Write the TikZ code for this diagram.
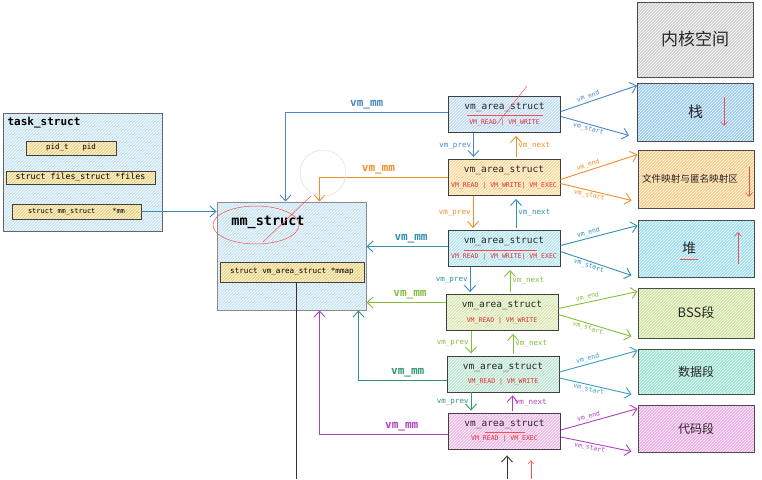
\documentclass[tikz,border=0pt]{standalone}
\usepackage{fontspec}
\setmonofont{DejaVu Sans Mono}
\newfontfamily\cjk{Noto Sans CJK SC}
\usetikzlibrary{arrows.meta,patterns,calc,positioning}

\definecolor{cblue}{HTML}{4A86C8}
\definecolor{corange}{HTML}{F28C28}
\definecolor{cteal}{HTML}{2F8FB5}
\definecolor{clime}{HTML}{84BD3A}
\definecolor{cgreen}{HTML}{2E9670}
\definecolor{cpurple}{HTML}{B23FC2}
\definecolor{ccyan}{HTML}{3A9DC2}
\definecolor{fblue}{HTML}{C0DEF6}
\definecolor{forange}{HTML}{FDD99C}
\definecolor{fteal}{HTML}{B5E6F5}
\definecolor{flime}{HTML}{D8EAB2}
\definecolor{fgreen}{HTML}{BCE8D0}
\definecolor{fpurple}{HTML}{F2B8EC}
\definecolor{ftask}{HTML}{C9E4F4}
\definecolor{ffield}{HTML}{F2D482}
\definecolor{sgray}{HTML}{D0D0D0}
\definecolor{sblue}{HTML}{9ACAF2}
\definecolor{sorange}{HTML}{FCCD86}
\definecolor{scyan}{HTML}{9CE0F3}
\definecolor{slime}{HTML}{CEE79C}
\definecolor{smint}{HTML}{98E7CE}
\definecolor{spink}{HTML}{F2AAEA}
\definecolor{flagred}{HTML}{E03131}

% body of one vm_area_struct box
\newcommand{\vmabody}[1]{{\fontsize{9.5}{11}\selectfont vm\_area\_struct}\\[2.5pt]{\color{flagred}\fontsize{6.5}{7}\selectfont #1}}

\begin{document}
\begin{tikzpicture}[x=1pt,y=-1pt]
	\tikzset{hatch/.style={preaction={fill=#1}, preaction={pattern=north east lines, pattern color=white}}}
	\tikzstyle{vma}=[draw=black!75, line width=0.9pt, minimum width=112pt, minimum height=36pt,
	inner sep=1pt, align=center, text=black!85, font=\ttfamily]
	\tikzstyle{seg}=[draw=black!70, line width=0.9pt, minimum width=116pt, text=black!85]
	\tikzstyle{field}=[draw=black!75, line width=0.7pt, hatch=ffield, inner sep=1pt,
	font=\ttfamily\fontsize{7.5}{8}\selectfont]
	\tikzstyle{ptr}=[-{Straight Barb[length=6pt,width=11pt]}, line width=0.9pt]
	\tikzstyle{mmlbl}=[font=\ttfamily\bfseries\fontsize{11}{12}\selectfont, above, inner sep=2.5pt]
	\tikzstyle{lnk}=[font=\ttfamily\fontsize{7.5}{8}\selectfont, inner sep=2pt]
	\tikzstyle{rng}=[font=\ttfamily\fontsize{6.5}{7}\selectfont, inner sep=1.5pt, sloped]
	\tikzstyle{redink}=[draw=red!70, line width=0.5pt]

	\useasboundingbox (0,0) rectangle (762,479);

	% task_struct
	\node[draw=black!60, line width=0.9pt, hatch=ftask, minimum width=159pt, minimum height=118pt] (tsk) at (82.5,172) {};
	\node[anchor=west, font=\ttfamily\bfseries\fontsize{11}{12}\selectfont] (tsktitle) at (4,123) {task\_struct};
	\node[field, minimum width=90pt, minimum height=14pt] (pid) at (71,148) {pid\_t\ \ \ pid};
	\node[field, minimum width=149pt, minimum height=13pt, font=\ttfamily\fontsize{8.3}{9}\selectfont] (files) at (80.5,177.5) {struct files\_struct *files};
	\node[field, minimum width=129pt, minimum height=15pt, font=\ttfamily\fontsize{7}{8}\selectfont] (mmf) at (76.5,211.5) {struct mm\_struct\ \ \ \ *mm};

	% mm_struct
	\node[draw=black!45, line width=0.9pt, hatch=ftask, minimum width=149pt, minimum height=108pt] (mm) at (291.5,256) {};
	\node[font=\ttfamily\bfseries\fontsize{13.5}{15}\selectfont] (mmtitle) at (268,222) {mm\_struct};
	\node[field, minimum width=144pt, minimum height=20pt, font=\ttfamily\fontsize{7.6}{8}\selectfont] (mmap) at (292,272) {struct vm\_area\_struct *mmap};
	\coordinate (mmapleg) at (296,479);
	\draw[line width=0.9pt, black!80] (mmapleg |- mmap.south) -- (mmapleg);
	\draw[ptr, cteal] (mmf.east) -- (mmf.east -| mm.west);

	% vm_area_struct list
	\node[vma, hatch=fblue] (vma1) at (504.5,114.5) {\vmabody{VM\_READ | VM\_WRITE}};
	\node[vma, hatch=forange] (vma2) at (504,177.5) {\vmabody{VM\_READ | VM\_WRITE| VM\_EXEC}};
	\node[vma, hatch=fteal] (vma3) at (504,248.5) {\vmabody{VM\_READ | VM\_WRITE| VM\_EXEC}};
	\node[vma, hatch=flime] (vma4) at (502,312.5) {\vmabody{VM\_READ | VM\_WRITE}};
	\node[vma, hatch=fgreen] (vma5) at (503,374) {\vmabody{VM\_READ | VM\_WRITE}};
	\node[vma, hatch=fpurple] (vma6) at (504.5,431) {\vmabody{VM\_READ | VM\_EXEC}};

	% vm_mm back to mm_struct
	\draw[ptr, cblue] ([yshift=2pt]vma1.west) -| node[mmlbl, pos=0.25, text=cblue] {vm\_mm} ([xshift=69pt]mm.north west);
	\draw[ptr, corange] (vma2.west) -| node[mmlbl, pos=0.27, text=corange] {vm\_mm} ([xshift=103pt]mm.north west);
	\draw[ptr, cteal] ([yshift=2pt]vma3.west) -- node[mmlbl, pos=0.45, text=cteal] {vm\_mm} ([yshift=2pt]vma3.west -| mm.east);
	\draw[ptr, clime] ([yshift=10pt]vma4.west) -- node[mmlbl, pos=0.45, text=clime] {vm\_mm} ([yshift=10pt]vma4.west -| mm.east);
	\draw[ptr, cgreen] ([yshift=-6pt]vma5.west) -| node[mmlbl, pos=0.22, text=cgreen] {vm\_mm} ([xshift=-8pt]mm.south east);
	\draw[ptr, cpurple] ([yshift=-3pt]vma6.west) -| node[mmlbl, pos=0.18, text=cpurple] {vm\_mm} ([xshift=103pt]mm.south west);

	% vm_prev / vm_next
	\draw[ptr, cblue, shorten >=2pt] ([xshift=-31pt]vma1.south) -- node[lnk, left, text=cblue] {vm\_prev} ([xshift=-31pt]vma1.south |- vma2.north);
	\draw[ptr, corange, shorten >=3pt, shorten <=2pt] ([xshift=12pt]vma2.north) -- node[lnk, right, text=corange] {vm\_next} ([xshift=12pt]vma2.north |- vma1.south);
	\draw[ptr, corange, shorten >=2pt] ([xshift=-31pt]vma2.south) -- node[lnk, left, text=corange] {vm\_prev} ([xshift=-31pt]vma2.south |- vma3.north);
	\draw[ptr, cteal, shorten >=3pt, shorten <=2pt] ([xshift=12pt]vma3.north) -- node[lnk, right, text=cteal] {vm\_next} ([xshift=12pt]vma3.north |- vma2.south);
	\draw[ptr, cteal, shorten >=2pt] ([xshift=-34pt]vma3.south) -- node[lnk, left, text=cteal] {vm\_prev} ([xshift=-34pt]vma3.south |- vma4.north);
	\draw[ptr, clime, shorten >=3pt, shorten <=2pt] ([xshift=8pt]vma4.north) -- node[lnk, right, text=clime] {vm\_next} ([xshift=8pt]vma4.north |- vma3.south);
	\draw[ptr, clime, shorten >=2pt] ([xshift=-31pt]vma4.south) -- node[lnk, left, text=clime] {vm\_prev} ([xshift=-31pt]vma4.south |- vma5.north);
	\draw[ptr, clime, shorten >=3pt, shorten <=2pt] ([xshift=10pt]vma5.north) -- node[lnk, right, text=clime] {vm\_next} ([xshift=10pt]vma5.north |- vma4.south);
	\draw[ptr, cgreen, shorten >=2pt] ([xshift=-32pt]vma5.south) -- node[lnk, left, text=cgreen] {vm\_prev} ([xshift=-32pt]vma5.south |- vma6.north);
	\draw[ptr, cpurple, shorten >=3pt, shorten <=2pt] ([xshift=8pt]vma6.north) -- node[lnk, right, text=cpurple] {vm\_next} ([xshift=8pt]vma6.north |- vma5.south);

	% address space
	\node[seg, hatch=sgray, minimum height=75pt, font=\cjk\fontsize{17}{18}\selectfont] (kernel) at (695,39.5) {内核空间};
	\node[seg, hatch=sblue, minimum height=58pt, font=\cjk\fontsize{15}{16}\selectfont] (stack) at (695.5,112) {栈};
	\node[seg, hatch=sorange, minimum height=58pt, font=\cjk\fontsize{9.6}{10}\selectfont] (mapzone) at (696,179) {文件映射与匿名映射区\hspace*{12pt}};
	\node[seg, hatch=scyan, minimum height=57pt, font=\cjk\fontsize{14}{15}\selectfont] (heap) at (696,248.5) {堆\hspace*{14pt}};
	\node[seg, hatch=slime, minimum height=50pt, font=\cjk\fontsize{13}{14}\selectfont] (bss) at (696,313) {BSS段};
	\node[seg, hatch=smint, minimum height=45pt, font=\cjk\fontsize{12}{13}\selectfont] (data) at (696,371.5) {数据段};
	\node[seg, hatch=spink, minimum height=47pt, font=\cjk\fontsize{12}{13}\selectfont] (text) at (696,428.5) {代码段};

	% vm_end / vm_start
	\draw[ptr, cblue] ([yshift=3pt]vma1.east) -- node[rng, above, pos=0.38, text=cblue] {vm\_end} ([yshift=-3pt]stack.north west);
	\draw[ptr, cblue] ([yshift=-2pt]vma1.east) -- node[rng, below, pos=0.42, text=cblue] {vm\_start} ([xshift=-8pt,yshift=6pt]stack.south west);
	\draw[ptr, corange] ([yshift=-2pt]vma2.east) -- node[rng, above, pos=0.38, text=corange] {vm\_end} ([yshift=-5pt]mapzone.north west);
	\draw[ptr, corange] ([yshift=-6pt]vma2.east) -- node[rng, below, pos=0.42, text=corange] {vm\_start} ([xshift=-6pt,yshift=8pt]mapzone.south west);
	\draw[ptr, cteal] ([yshift=3pt]vma3.east) -- node[rng, above, pos=0.38, text=cteal] {vm\_end} ([yshift=-6pt]heap.north west);
	\draw[ptr, cteal] ([yshift=-3pt]vma3.east) -- node[rng, below, pos=0.42, text=cteal] {vm\_start} ([xshift=-6pt,yshift=2pt]heap.south west);
	\draw[ptr, clime] ([yshift=4pt]vma4.east) -- node[rng, above, pos=0.38, text=clime] {vm\_end} ([yshift=-4pt]bss.north west);
	\draw[ptr, clime] ([yshift=-2pt]vma4.east) -- node[rng, below, pos=0.42, text=clime] {vm\_start} ([xshift=-6pt,yshift=2pt]bss.south west);
	\draw[ptr, ccyan] ([yshift=2pt]vma5.east) -- node[rng, above, pos=0.38, text=ccyan] {vm\_end} ([yshift=-2pt]data.north west);
	\draw[ptr, ccyan] ([yshift=-4pt]vma5.east) -- node[rng, below, pos=0.42, text=ccyan] {vm\_start} ([xshift=-6pt,yshift=0pt]data.south west);
	\draw[ptr, cpurple] ([yshift=1pt]vma6.east) -- node[rng, above, pos=0.38, text=cpurple] {vm\_end} ([yshift=-4pt]text.north west);
	\draw[ptr, cpurple] ([yshift=-6pt]vma6.east) -- node[rng, below, pos=0.42, text=cpurple] {vm\_start} ([xshift=-6pt,yshift=1pt]text.south west);

	% growth arrows
	\draw[ptr, flagred!85, line width=0.6pt, -{Straight Barb[length=4pt,width=7pt]}] (724,97) -- (724,126);
	\draw[ptr, flagred!85, line width=0.6pt, -{Straight Barb[length=4pt,width=7pt]}] (749,167) -- (749,197);
	\draw[ptr, flagred!85, line width=0.6pt, -{Straight Barb[length=4pt,width=7pt]}] (738,264) -- (738,232);

	% bottom
	\coordinate (inbot) at (507,479);
	\coordinate (redbot) at (531,479);
	\draw[ptr, black!80, shorten >=6pt] (inbot) -- (inbot |- vma6.south);
	\draw[redink, -{Straight Barb[length=3pt,width=6pt]}, shorten >=11pt] (redbot) -- (redbot |- vma6.south);

	% scribbles
	\draw[black!12, line width=0.6pt] (323,173) circle (23);
	\draw[redink] (256,225) ellipse [x radius=43, y radius=19];
	\draw[redink] (311,196) -- (263,242);
	\draw[redink] (527,86) -- (497,124);
	\draw[redink] (467,115) -- (543,115);
	\draw[redink] (464,250) -- (537,250);
	\draw[redink] (485,432) -- (525,432);
	\draw[redink] (680,259) -- (698,259);
\end{tikzpicture}
\end{document}
